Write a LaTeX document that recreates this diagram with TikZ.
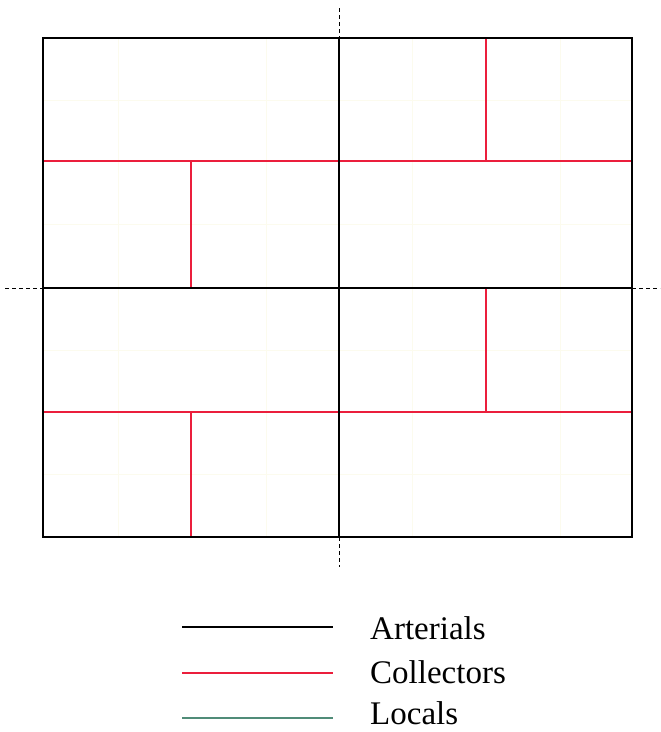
\documentclass[tikz,border=0pt]{standalone}
\usepackage{fontspec}
\setmainfont{Liberation Serif}
\definecolor{locc}{RGB}{80,140,120}
\definecolor{faint}{RGB}{252,251,238}
\definecolor{coll}{RGB}{235,30,60}
\begin{document}
\begin{tikzpicture}[x=1pt,y=-1pt,
  arterial/.style={black,line width=1.6pt},
  collector/.style={coll,line width=1.4pt},
  local/.style={faint,line width=0.7pt},
  guide/.style={black,line width=0.9pt,dash pattern=on 4pt off 3pt},
  legtext/.style={anchor=base west,font=\fontsize{33}{33}\selectfont,inner sep=0pt}]
\useasboundingbox (0,0) rectangle (661,732);
% locals (very faint)
\foreach \x in {118,266,412,560} \draw[local] (\x,38) -- (\x,537);
\foreach \y in {100,224,350,474} \draw[local] (43,\y) -- (632,\y);
% collectors
\draw[collector] (43,161) -- (632,161);
\draw[collector] (43,412) -- (632,412);
\draw[collector] (191,161) -- (191,288);
\draw[collector] (486,38) -- (486,161);
\draw[collector] (191,412) -- (191,537);
\draw[collector] (486,288) -- (486,412);
% arterials
\draw[arterial] (43,38) rectangle (632,537);
\draw[arterial] (339,38) -- (339,537);
\draw[arterial] (43,288) -- (632,288);
% dashed guides
\draw[guide] (339,8) -- (339,38);
\draw[guide] (339,537) -- (339,567);
\draw[guide] (5,288) -- (43,288);
\draw[guide] (632,288) -- (660,288);
% legend
\coordinate (la1) at (182,627); \coordinate (la2) at (333,627);
\coordinate (lc1) at (182,673); \coordinate (lc2) at (333,673);
\coordinate (ll1) at (182,718); \coordinate (ll2) at (333,718);
\draw[black,line width=1.2pt] (la1) -- (la2);
\draw[coll,line width=1.4pt] (lc1) -- (lc2);
\draw[locc,line width=1.2pt] (ll1) -- (ll2);
\node[legtext] (ta) at (370,639) {Arterials};
\node[legtext] (tc) at (370,683) {Collectors};
\node[legtext] (tl) at (370,724) {Locals};
\end{tikzpicture}
\end{document}
